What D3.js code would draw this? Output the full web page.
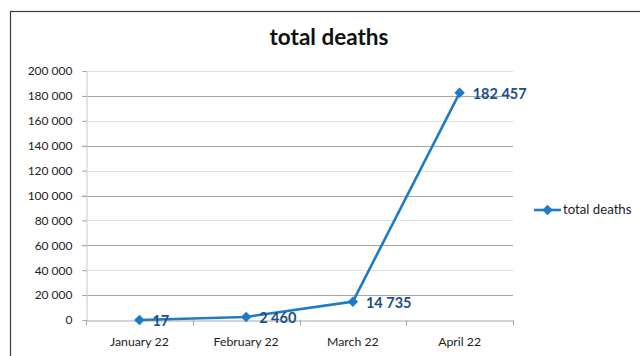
<!DOCTYPE html>
<html><head><meta charset="utf-8">
<script src="https://cdn.jsdelivr.net/npm/d3@7"></script>
<style>body{margin:0;background:#fff}svg{display:block}text{font-family:Lato,"Liberation Sans",sans-serif}</style>
</head><body><svg id="c" width="640" height="356"></svg>
<script>
const categories = ["January 22","February 22","March 22","April 22"];
const values = [17, 2460, 14735, 182457];
const labels = ["17","2 460","14 735","182 457"];
const yTicks = [0,20000,40000,60000,80000,100000,120000,140000,160000,180000,200000];
const seriesName = "total deaths";
const title = "total deaths";

const svg = d3.select("#c");
svg.append("rect").attr("x",10.5).attr("y",11.5).attr("width",640).attr("height",360)
  .attr("fill","#fff").attr("stroke","#3a3a3a").attr("stroke-width",1.2);

const x = d3.scaleBand().domain(categories).range([86,513]);
const y = d3.scaleLinear().domain([0,200000]).range([320,71]);
const fmt = d => d===0 ? "0" : d3.format(",")(d).replace(/,/g," ");

// gridlines
svg.append("g").selectAll("line").data(yTicks.filter(d=>d>0)).join("line")
  .attr("x1",82).attr("x2",513).attr("y1",d=>Math.round(y(d))+0.5).attr("y2",d=>Math.round(y(d))+0.5)
  .attr("stroke",(d,i)=> (d/20000)%2===1 ? "#a6a6a6" : "#e0e0e0").attr("stroke-width",1);

// y axis
const yAxis = svg.append("g").attr("transform","translate(86.5,0)")
  .call(d3.axisLeft(y).tickValues(yTicks).tickFormat(fmt).tickSize(4).tickPadding(10));
yAxis.select(".domain").attr("stroke","#c8c8c8");
yAxis.selectAll(".tick line").attr("stroke","#a6a6a6");
yAxis.selectAll(".tick text").attr("font-size",12).attr("fill","#222").attr("font-family","Lato");

// x axis
const xAxis = svg.append("g").attr("transform","translate(0,"+(Math.round(y(0))+0.5)+")")
  .call(d3.axisBottom(x).tickSize(0).tickPadding(17));
xAxis.select(".domain").attr("stroke","#a6a6a6");
xAxis.selectAll(".tick text").attr("font-size",12.3).attr("fill","#222").attr("font-family","Lato");
const bounds = categories.map(c=>x(c)).concat([x(categories[3])+x.bandwidth()]);
xAxis.selectAll(".bt").data(bounds).join("line").attr("class","bt")
  .attr("x1",d=>Math.round(d)+0.5).attr("x2",d=>Math.round(d)+0.5).attr("y1",0).attr("y2",5)
  .attr("stroke","#a6a6a6");

// line
const cx = c => x(c)+x.bandwidth()/2;
const line = d3.line().x((d,i)=>cx(categories[i])).y(d=>y(d));
svg.append("path").datum(values).attr("d",line).attr("fill","none")
  .attr("stroke","#1f7bc4").attr("stroke-width",2.6).attr("stroke-linejoin","round");
const diamond = d3.symbol().type(d3.symbolDiamond2).size(70);
svg.append("g").selectAll("path").data(values).join("path")
  .attr("d",diamond).attr("transform",(d,i)=>`translate(${cx(categories[i])},${y(d)})`)
  .attr("fill","#1f7bc4");

// data labels
svg.append("g").selectAll("text").data(values).join("text")
  .attr("x",(d,i)=>cx(categories[i])+13).attr("y",d=>y(d)+6)
  .attr("font-size",14.5).attr("font-weight","bold").attr("fill","#1b4f86")
  .text((d,i)=>labels[i]);

// title
svg.append("text").attr("x",329).attr("y",45).attr("text-anchor","middle")
  .attr("font-size",22.5).attr("font-weight","bold").attr("fill","#111").text(title);

// legend
const ly = 210;
svg.append("line").attr("x1",534).attr("x2",561).attr("y1",ly).attr("y2",ly)
  .attr("stroke","#1f7bc4").attr("stroke-width",2.6);
svg.append("path").attr("d",diamond).attr("transform",`translate(547.5,${ly})`).attr("fill","#1f7bc4");
svg.append("text").attr("x",563).attr("y",ly+4).attr("font-size",13.2).attr("fill","#222").text(seriesName);
</script></body></html>
